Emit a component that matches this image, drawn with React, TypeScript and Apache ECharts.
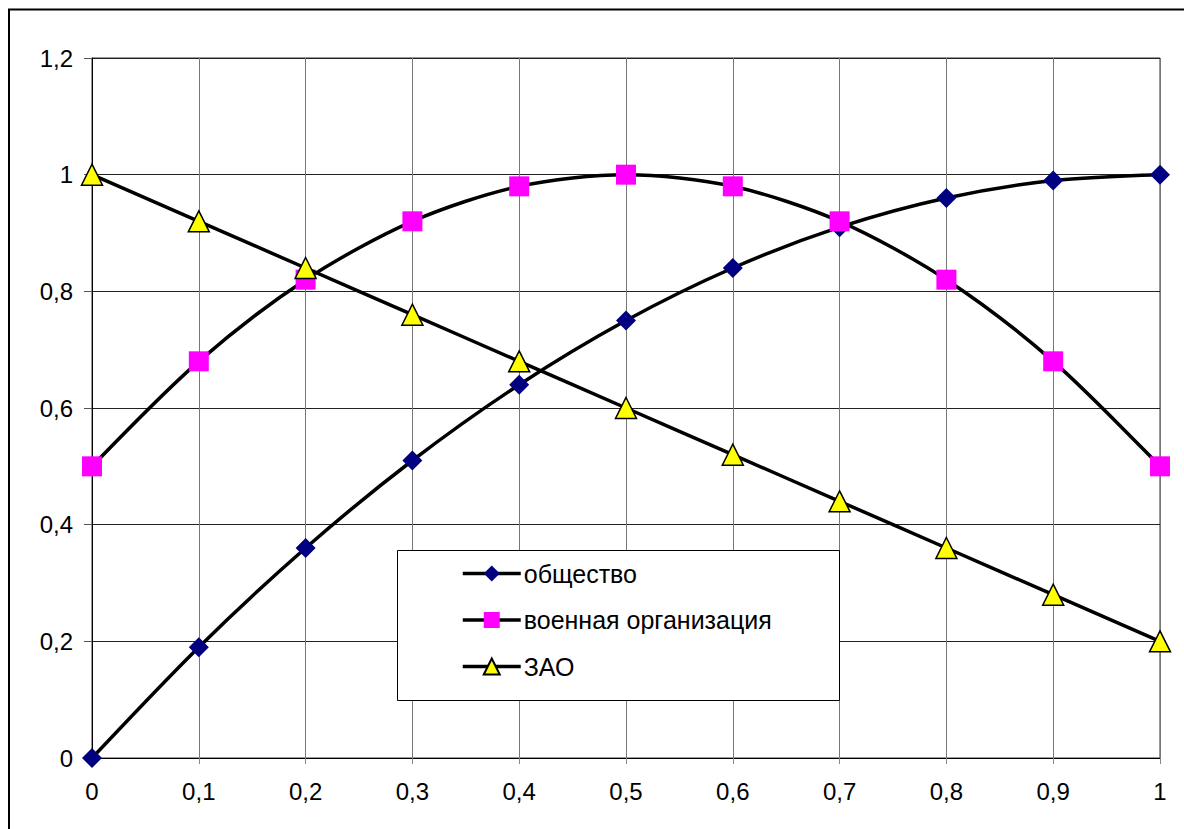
import React, { useEffect, useRef } from "react";
import * as echarts from "echarts";

const xValues = [0, 0.1, 0.2, 0.3, 0.4, 0.5, 0.6, 0.7, 0.8, 0.9, 1];
const obshchestvo = [0, 0.19, 0.36, 0.51, 0.64, 0.75, 0.84, 0.91, 0.96, 0.99, 1];
const voennaya = [0.5, 0.68, 0.82, 0.92, 0.98, 1, 0.98, 0.92, 0.82, 0.68, 0.5];
const zao = [1, 0.92, 0.84, 0.76, 0.68, 0.6, 0.52, 0.44, 0.36, 0.28, 0.2];
const seriesNames = ["общество", "военная организация", "ЗАО"];

const fmt = (v: number) => {
  const r = Math.round(v * 10) / 10;
  if (Number.isInteger(r)) return String(r);
  return r.toFixed(1).replace(".", ",");
};

const pairs = (ys: number[]) => xValues.map((x, i) => [x, ys[i]]);

export default function App() {
  const ref = useRef<HTMLDivElement>(null);
  useEffect(() => {
    if (!ref.current) return;
    const chart = echarts.init(ref.current, null, { renderer: "svg" });
    const font = "'Liberation Sans', Arial, sans-serif";
    const lineStyle = { color: "#000", width: 3.5 };
    chart.setOption({
      animation: false,
      backgroundColor: "#fff",
      textStyle: { fontFamily: font },
      grid: { left: 92, top: 58, right: 24, bottom: 71, show: true, borderColor: "#333", borderWidth: 1 },
      graphic: [
        {
          type: "polyline",
          shape: { points: [[9, 829], [9, 9.5], [1184, 9.5]] },
          style: { stroke: "#000", lineWidth: 2, fill: null },
          silent: true,
          z: 0,
        },
        {
          type: "rect",
          shape: { x: 397.5, y: 550.5, width: 442, height: 150 },
          style: { stroke: "#000", lineWidth: 1, fill: "#fff" },
          silent: true,
          z: 10,
        },
      ],
      legend: {
        orient: "vertical",
        left: 461,
        top: 561,
        padding: 0,
        itemGap: 21.5,
        itemWidth: 58,
        itemHeight: 20,
        z: 20,
        lineStyle: { width: 3.5, color: "#000" },
        textStyle: { fontFamily: font, fontSize: 25, lineHeight: 20, color: "#000", padding: [0, 0, 0, -2] },
        data: seriesNames,
      },
      xAxis: {
        type: "value",
        min: 0,
        max: 1,
        interval: 0.1,
        axisLine: { show: true, lineStyle: { color: "#000", width: 1 } },
        axisTick: { show: true, length: 6, lineStyle: { color: "#888" } },
        axisLabel: { formatter: fmt, fontSize: 24, color: "#000", margin: 21, fontFamily: font },
        splitLine: { show: true, lineStyle: { color: "#777", width: 1 } },
      },
      yAxis: {
        type: "value",
        min: 0,
        max: 1.2,
        interval: 0.2,
        axisLine: { show: true, onZero: false, lineStyle: { color: "#000", width: 1 } },
        axisTick: { show: true, length: 8, lineStyle: { color: "#555" } },
        axisLabel: { formatter: fmt, fontSize: 24, color: "#000", margin: 19, fontFamily: font },
        splitLine: { show: true, lineStyle: { color: "#222", width: 1 } },
      },
      series: [
        {
          name: seriesNames[0],
          type: "line",
          smooth: 0.3,
          data: pairs(obshchestvo),
          symbol: "diamond",
          symbolSize: 20,
          itemStyle: { color: "#000080", borderWidth: 0 },
          lineStyle,
          z: 3,
        },
        {
          name: seriesNames[1],
          type: "line",
          smooth: 0.3,
          data: pairs(voennaya),
          symbol: "rect",
          symbolSize: 20,
          itemStyle: { color: "#FF00FF", borderWidth: 0 },
          lineStyle,
          z: 4,
        },
        {
          name: seriesNames[2],
          type: "line",
          smooth: 0.3,
          data: pairs(zao),
          symbol: "triangle",
          symbolSize: 21,
          itemStyle: { color: "#FFFF00", borderColor: "#000", borderWidth: 1.5 },
          lineStyle,
          z: 5,
        },
      ],
    });
    return () => chart.dispose();
  }, []);
  return (
    <div
      ref={ref}
      style={{ position: "fixed", left: 0, top: 0, width: 1184, height: 829, background: "#fff" }}
    />
  );
}
